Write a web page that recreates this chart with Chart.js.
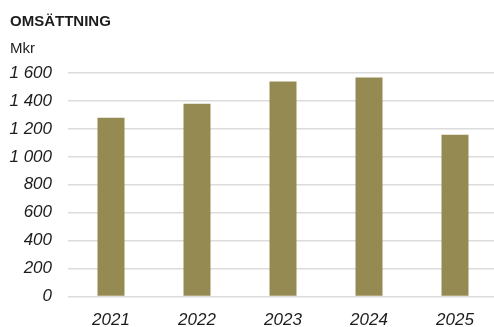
<!DOCTYPE html>
<html>
<head>
<meta charset="utf-8">
<script src="https://cdn.jsdelivr.net/npm/chart.js@4/dist/chart.umd.min.js"></script>
<style>
  html, body { margin: 0; padding: 0; background: #fff; overflow: hidden; }
  #wrap { width: 498px; height: 327px; }
</style>
</head>
<body>
<div id="wrap"><canvas id="sales"></canvas></div>
<script>
const years = ['2021', '2022', '2023', '2024', '2025'];
const revenue = [1280, 1379, 1539, 1567, 1158];
const yMax = 1600;
const yStep = 200;

const barColor = '#958a52';
const textColor = '#1c1c1c';
const gridColor = '#dcdcdc';
const family = '"Liberation Sans", Arial, sans-serif';

// "1600" -> "1 600"
const fmt = v => String(v).replace(/\B(?=(\d{3})+(?!\d))/g, ' ');

new Chart(document.getElementById('sales'), {
    type: 'bar',
    data: {
        labels: years,
        datasets: [{
            label: 'Omsättning',
            data: revenue,
            backgroundColor: barColor,
            barPercentage: 0.314,
            categoryPercentage: 1
        }]
    },
    options: {
        responsive: true,
        maintainAspectRatio: false,
        animation: false,
        layout: { padding: { left: 10, right: 0, top: 0, bottom: 0 } },
        plugins: {
            legend: { display: false },
            tooltip: { enabled: false },
            title: {
                display: true,
                text: 'OMSÄTTNING',
                align: 'start',
                color: textColor,
                font: { family, size: 15, weight: 'bold' },
                padding: { top: 13, bottom: 9 }
            },
            subtitle: {
                display: true,
                text: 'Mkr',
                align: 'start',
                color: textColor,
                font: { family, size: 15 },
                padding: { top: 0, bottom: 15 }
            }
        },
        scales: {
            x: {
                grid: { display: false },
                border: { display: false },
                ticks: {
                    color: textColor,
                    padding: 6,
                    font: { family, size: 17, style: 'italic' }
                },
                afterFit: s => { s.height = 30.5; }
            },
            y: {
                min: 0,
                max: yMax,
                grid: { color: gridColor, lineWidth: 1.5, drawTicks: false },
                border: { display: false },
                ticks: {
                    stepSize: yStep,
                    color: textColor,
                    padding: 16,
                    font: { family, size: 17, style: 'italic' },
                    callback: v => fmt(v)
                },
                afterFit: s => { s.width = 58; }
            }
        }
    }
});
</script>
</body>
</html>
